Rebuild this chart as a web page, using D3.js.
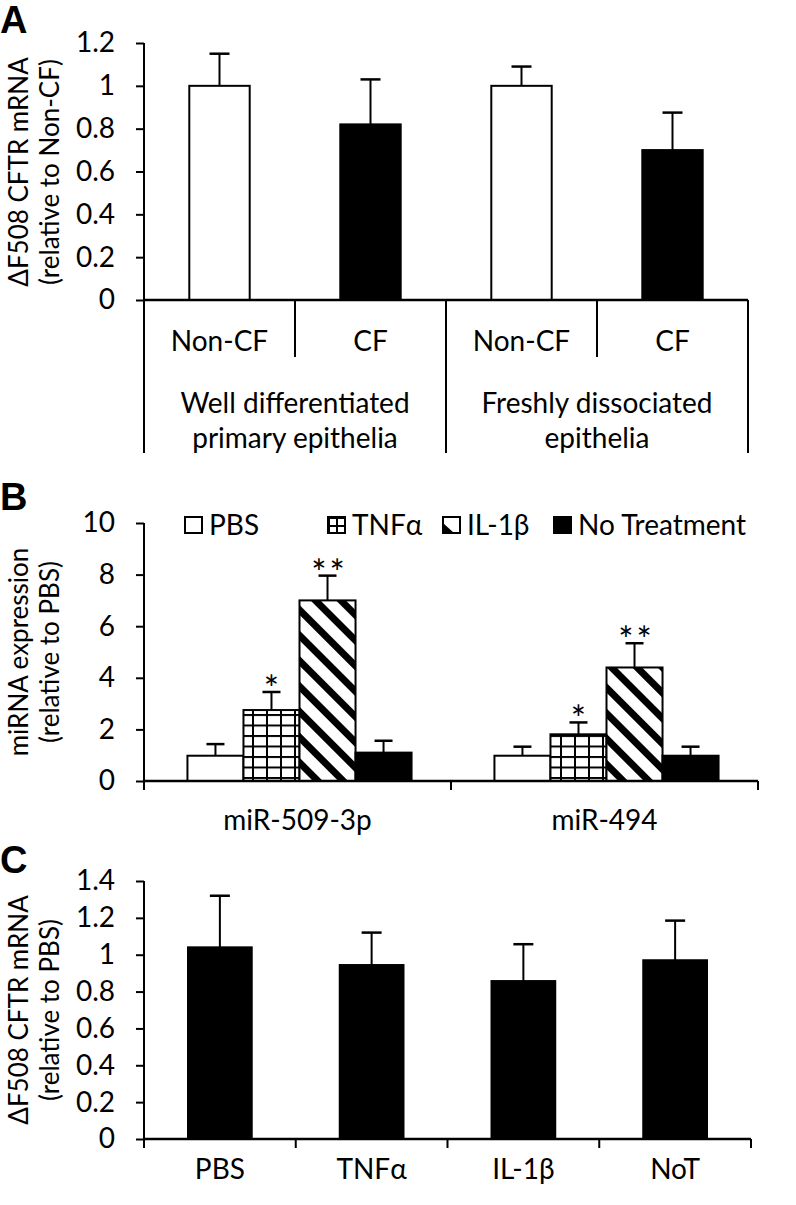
<!DOCTYPE html>
<html>
<head>
<meta charset="utf-8">
<script src="https://cdn.jsdelivr.net/npm/d3@7"></script>
<style>
  html, body { margin: 0; padding: 0; background: #fff; }
  svg text { font-family: Lato, "Open Sans", sans-serif; fill: #000; }
</style>
</head>
<body>
<svg id="chart" width="796" height="1205"></svg>
<script>
// ---------- Panel A data ----------
const catsA = ["Non-CF", "CF", "Non-CF", "CF"];
const groupsA = [["Well differentiated", "primary epithelia"], ["Freshly dissociated", "epithelia"]];
const valuesA = [1.0, 0.82, 1.0, 0.70];
const errorsA = [0.15, 0.21, 0.09, 0.175];
const fillsA = ["white", "black", "white", "black"];
const ticksA = [0, 0.2, 0.4, 0.6, 0.8, 1, 1.2];
const titleA = ["ΔF508 CFTR mRNA", "(relative to Non-CF)"];

// ---------- Panel B data ----------
const mirnas = ["miR-509-3p", "miR-494"];
const treatments = ["PBS", "TNFα", "IL-1β", "No Treatment"];
const valuesB = [[0.98, 2.75, 7.0, 1.1], [0.98, 1.81, 4.4, 0.98]];
const errorsB = [[0.45, 0.7, 0.96, 0.46], [0.35, 0.46, 0.94, 0.35]];
const sigB = [["", "*", "**", ""], ["", "*", "**", ""]];
const ticksB = [0, 2, 4, 6, 8, 10];
const titleB = ["miRNA expression", "(relative to PBS)"];

// ---------- Panel C data ----------
const catsC = ["PBS", "TNFα", "IL-1β", "NoT"];
const valuesC = [1.04, 0.944, 0.857, 0.97];
const errorsC = [0.28, 0.176, 0.2, 0.215];
const ticksC = [0, 0.2, 0.4, 0.6, 0.8, 1, 1.2, 1.4];
const titleC = ["ΔF508 CFTR mRNA", "(relative to PBS)"];

const FS = 28;
const FT = 26;
const svg = d3.select("#chart");
const defs = svg.append("defs");

// grid pattern (TNFα)
const pg = defs.append("pattern").attr("id", "grid").attr("patternUnits", "userSpaceOnUse")
  .attr("width", 14).attr("height", 10.5);
pg.append("rect").attr("width", 14).attr("height", 10.5).attr("fill", "white");
pg.append("rect").attr("width", 2).attr("height", 10.5).attr("fill", "black");
pg.append("rect").attr("width", 14).attr("height", 2).attr("fill", "black");
// small grid for legend
const pgs = defs.append("pattern").attr("id", "gridS").attr("patternUnits", "userSpaceOnUse")
  .attr("x", 328).attr("y", 517).attr("width", 8).attr("height", 8);
pgs.append("rect").attr("width", 8).attr("height", 8).attr("fill", "white");
pgs.append("rect").attr("width", 2).attr("height", 8).attr("fill", "black");
pgs.append("rect").attr("width", 8).attr("height", 2).attr("fill", "black");
// stripe pattern (IL-1β)
const ps = defs.append("pattern").attr("id", "stripes").attr("patternUnits", "userSpaceOnUse")
  .attr("width", 10).attr("height", 18).attr("patternTransform", "rotate(45)");
ps.append("rect").attr("width", 10).attr("height", 18).attr("fill", "white");
ps.append("rect").attr("width", 10).attr("height", 7).attr("fill", "black");

const fillB = ["white", "url(#grid)", "url(#stripes)", "black"];

function yAxis(g, y, ticks, x0) {
  const ax = d3.axisLeft(y).tickValues(ticks).tickSize(8).tickPadding(21)
    .tickFormat(d => d3.format("~g")(d));
  const gg = g.append("g").attr("transform", `translate(${x0},0)`).call(ax);
  gg.select(".domain").remove();
  gg.selectAll(".tick line").attr("stroke", "black").attr("stroke-width", 2);
  gg.selectAll(".tick text").attr("font-size", FS).attr("font-family", "Lato").attr("fill", "black");
  return gg;
}
function yTitle(g, lines, cx, cy) {
  const t = g.append("text").attr("transform", `translate(${cx},${cy}) rotate(-90)`)
    .attr("text-anchor", "middle").attr("font-size", FT);
  lines.forEach((l, i) => t.append("tspan").attr("x", 0).attr("dy", i === 0 ? 0 : 31).text(l));
}
function panelLabel(text, x, y) {
  svg.append("text").attr("x", x).attr("y", y).attr("font-size", 38).attr("font-weight", "bold")
    .style("font-family", "'Liberation Sans', Arial, sans-serif").text(text);
}
function errBars(g, data, cap) {
  g.selectAll(null).data(data).enter().append("line")
    .attr("x1", d => d.cx).attr("x2", d => d.cx).attr("y1", d => d.y0).attr("y2", d => d.y1)
    .attr("stroke", "black").attr("stroke-width", 2);
  g.selectAll(null).data(data).enter().append("line")
    .attr("x1", d => d.cx - cap / 2).attr("x2", d => d.cx + cap / 2).attr("y1", d => d.y1).attr("y2", d => d.y1)
    .attr("stroke", "black").attr("stroke-width", 2.5);
}

// ================= Panel A =================
{
  const g = svg.append("g");
  const x = d3.scaleBand().domain(d3.range(catsA.length)).range([144, 748]).paddingInner(0.6).paddingOuter(0.3);
  const y = d3.scaleLinear().domain([0, 1.2]).range([300, 43]);
  yAxis(g, y, ticksA, 144);
  yTitle(g, titleA, 28, 172);
  const data = valuesA.map((v, i) => ({ i, v, e: errorsA[i] }));
  errBars(g, data.map(d => ({ cx: x(d.i) + x.bandwidth() / 2, y0: y(d.v), y1: y(d.v + d.e) })), 20);
  g.selectAll("rect.bar").data(data).enter().append("rect")
    .attr("x", d => x(d.i)).attr("width", x.bandwidth())
    .attr("y", d => y(d.v)).attr("height", d => y(0) - y(d.v))
    .attr("fill", d => fillsA[d.i]).attr("stroke", "black").attr("stroke-width", 2);
  // axis lines / table
  const step = x.step();
  const edges = d3.range(catsA.length + 1).map(k => 144 + k * step);
  g.append("line").attr("x1", 144).attr("x2", 144).attr("y1", y(1.2)).attr("y2", 453).attr("stroke", "black").attr("stroke-width", 2);
  g.append("line").attr("x1", 143).attr("x2", 748).attr("y1", y(0)).attr("y2", y(0)).attr("stroke", "black").attr("stroke-width", 2.5);
  g.selectAll(null).data(edges.slice(1)).enter().append("line")
    .attr("x1", d => d).attr("x2", d => d).attr("y1", y(0))
    .attr("y2", (d, i) => (i % 2 === 1 ? 453 : 357)).attr("stroke", "black").attr("stroke-width", 2);
  g.selectAll(null).data(catsA).enter().append("text")
    .attr("x", (d, i) => x(i) + x.bandwidth() / 2).attr("y", 351).attr("text-anchor", "middle")
    .attr("font-size", FS).text(d => d);
  groupsA.forEach((lines, gi) => {
    const cx = (edges[gi * 2] + edges[gi * 2 + 2]) / 2;
    lines.forEach((l, li) => g.append("text").attr("x", cx).attr("y", 413 + li * 35)
      .attr("text-anchor", "middle").attr("font-size", FS).text(l));
  });
}
panelLabel("A", 0, 33);

// ================= Panel B =================
{
  const g = svg.append("g");
  const x0 = d3.scaleBand().domain(mirnas).range([144, 758]).paddingInner(0.27).paddingOuter(0.135);
  const x1 = d3.scaleBand().domain(treatments).range([0, x0.bandwidth()]);
  const y = d3.scaleLinear().domain([0, 10]).range([781, 523]);
  yAxis(g, y, ticksB, 144);
  yTitle(g, titleB, 28, 652);
  const data = [];
  mirnas.forEach((m, mi) => treatments.forEach((t, ti) => data.push({
    m, t, ti, v: valuesB[mi][ti], e: errorsB[mi][ti], s: sigB[mi][ti]
  })));
  const bx = d => x0(d.m) + 2 + x1(d.t);
  errBars(g, data.map(d => ({ cx: bx(d) + x1.bandwidth() / 2, y0: y(d.v), y1: y(d.v + d.e) })), 18);
  g.selectAll("rect.bar").data(data).enter().append("rect")
    .attr("x", bx).attr("width", x1.bandwidth())
    .attr("y", d => y(d.v)).attr("height", d => y(0) - y(d.v))
    .attr("fill", d => fillB[d.ti]).attr("stroke", "black").attr("stroke-width", 2);
  g.selectAll(null).data(data.filter(d => d.s)).enter().append("text")
    .attr("x", d => bx(d) + x1.bandwidth() / 2 + (d.s.length > 1 ? 2 : 0)).attr("y", d => y(d.v + d.e) + 10)
    .attr("text-anchor", "middle").attr("font-size", 36).attr("letter-spacing", d => d.s.length > 1 ? 3 : 0)
    .text(d => d.s);
  // axes
  g.append("line").attr("x1", 144).attr("x2", 144).attr("y1", y(10)).attr("y2", y(0)).attr("stroke", "black").attr("stroke-width", 2);
  g.append("line").attr("x1", 143).attr("x2", 758).attr("y1", y(0)).attr("y2", y(0)).attr("stroke", "black").attr("stroke-width", 2.5);
  const bnd = [144, 144 + (758 - 144) / 2, 758];
  g.selectAll(null).data(bnd).enter().append("line")
    .attr("x1", d => d).attr("x2", d => d).attr("y1", y(0)).attr("y2", y(0) + 9)
    .attr("stroke", "black").attr("stroke-width", 2);
  g.selectAll(null).data(mirnas).enter().append("text")
    .attr("x", d => x0(d) + x0.bandwidth() / 2).attr("y", 830).attr("text-anchor", "middle")
    .attr("font-size", FS).text(d => d);
  // legend
  const legX = [185, 328, 443, 554];
  const legFill = ["white", "url(#gridS)", null, "black"];
  treatments.forEach((t, i) => {
    if (i === 2) {
      g.append("rect").attr("x", legX[i]).attr("y", 517).attr("width", 17).attr("height", 16)
        .attr("fill", "white").attr("stroke", "black").attr("stroke-width", 2);
      g.append("path").attr("d", `M${legX[i]},${523} L${legX[i] + 11},${533} L${legX[i]},${533} Z`).attr("fill", "black");
    } else {
      g.append("rect").attr("x", legX[i]).attr("y", 517).attr("width", 17).attr("height", 16)
        .attr("fill", legFill[i]).attr("stroke", "black").attr("stroke-width", 2);
    }
    g.append("text").attr("x", legX[i] + 24).attr("y", 535).attr("font-size", FS).text(t);
  });
}
panelLabel("B", 0, 510);

// ================= Panel C =================
{
  const g = svg.append("g");
  const x = d3.scaleBand().domain(catsC).range([144, 751]).paddingInner(0.58).paddingOuter(0.29);
  const y = d3.scaleLinear().domain([0, 1.4]).range([1139, 881]);
  yAxis(g, y, ticksC, 144);
  yTitle(g, titleC, 28, 1010);
  const data = catsC.map((c, i) => ({ c, v: valuesC[i], e: errorsC[i] }));
  errBars(g, data.map(d => ({ cx: x(d.c) + x.bandwidth() / 2, y0: y(d.v), y1: y(d.v + d.e) })), 20);
  g.selectAll("rect.bar").data(data).enter().append("rect")
    .attr("x", d => x(d.c)).attr("width", x.bandwidth())
    .attr("y", d => y(d.v)).attr("height", d => y(0) - y(d.v))
    .attr("fill", "black").attr("stroke", "black").attr("stroke-width", 2);
  g.append("line").attr("x1", 144).attr("x2", 144).attr("y1", y(1.4)).attr("y2", y(0)).attr("stroke", "black").attr("stroke-width", 2);
  g.append("line").attr("x1", 143).attr("x2", 751).attr("y1", y(0)).attr("y2", y(0)).attr("stroke", "black").attr("stroke-width", 2.5);
  const bnd = d3.range(catsC.length + 1).map(k => 144 + k * x.step());
  g.selectAll(null).data(bnd).enter().append("line")
    .attr("x1", d => d).attr("x2", d => d).attr("y1", y(0)).attr("y2", y(0) + 9)
    .attr("stroke", "black").attr("stroke-width", 2);
  g.selectAll(null).data(catsC).enter().append("text")
    .attr("x", d => x(d) + x.bandwidth() / 2).attr("y", 1179).attr("text-anchor", "middle")
    .attr("font-size", FS).text(d => d);
}
panelLabel("C", 0, 873);
</script>
</body>
</html>
